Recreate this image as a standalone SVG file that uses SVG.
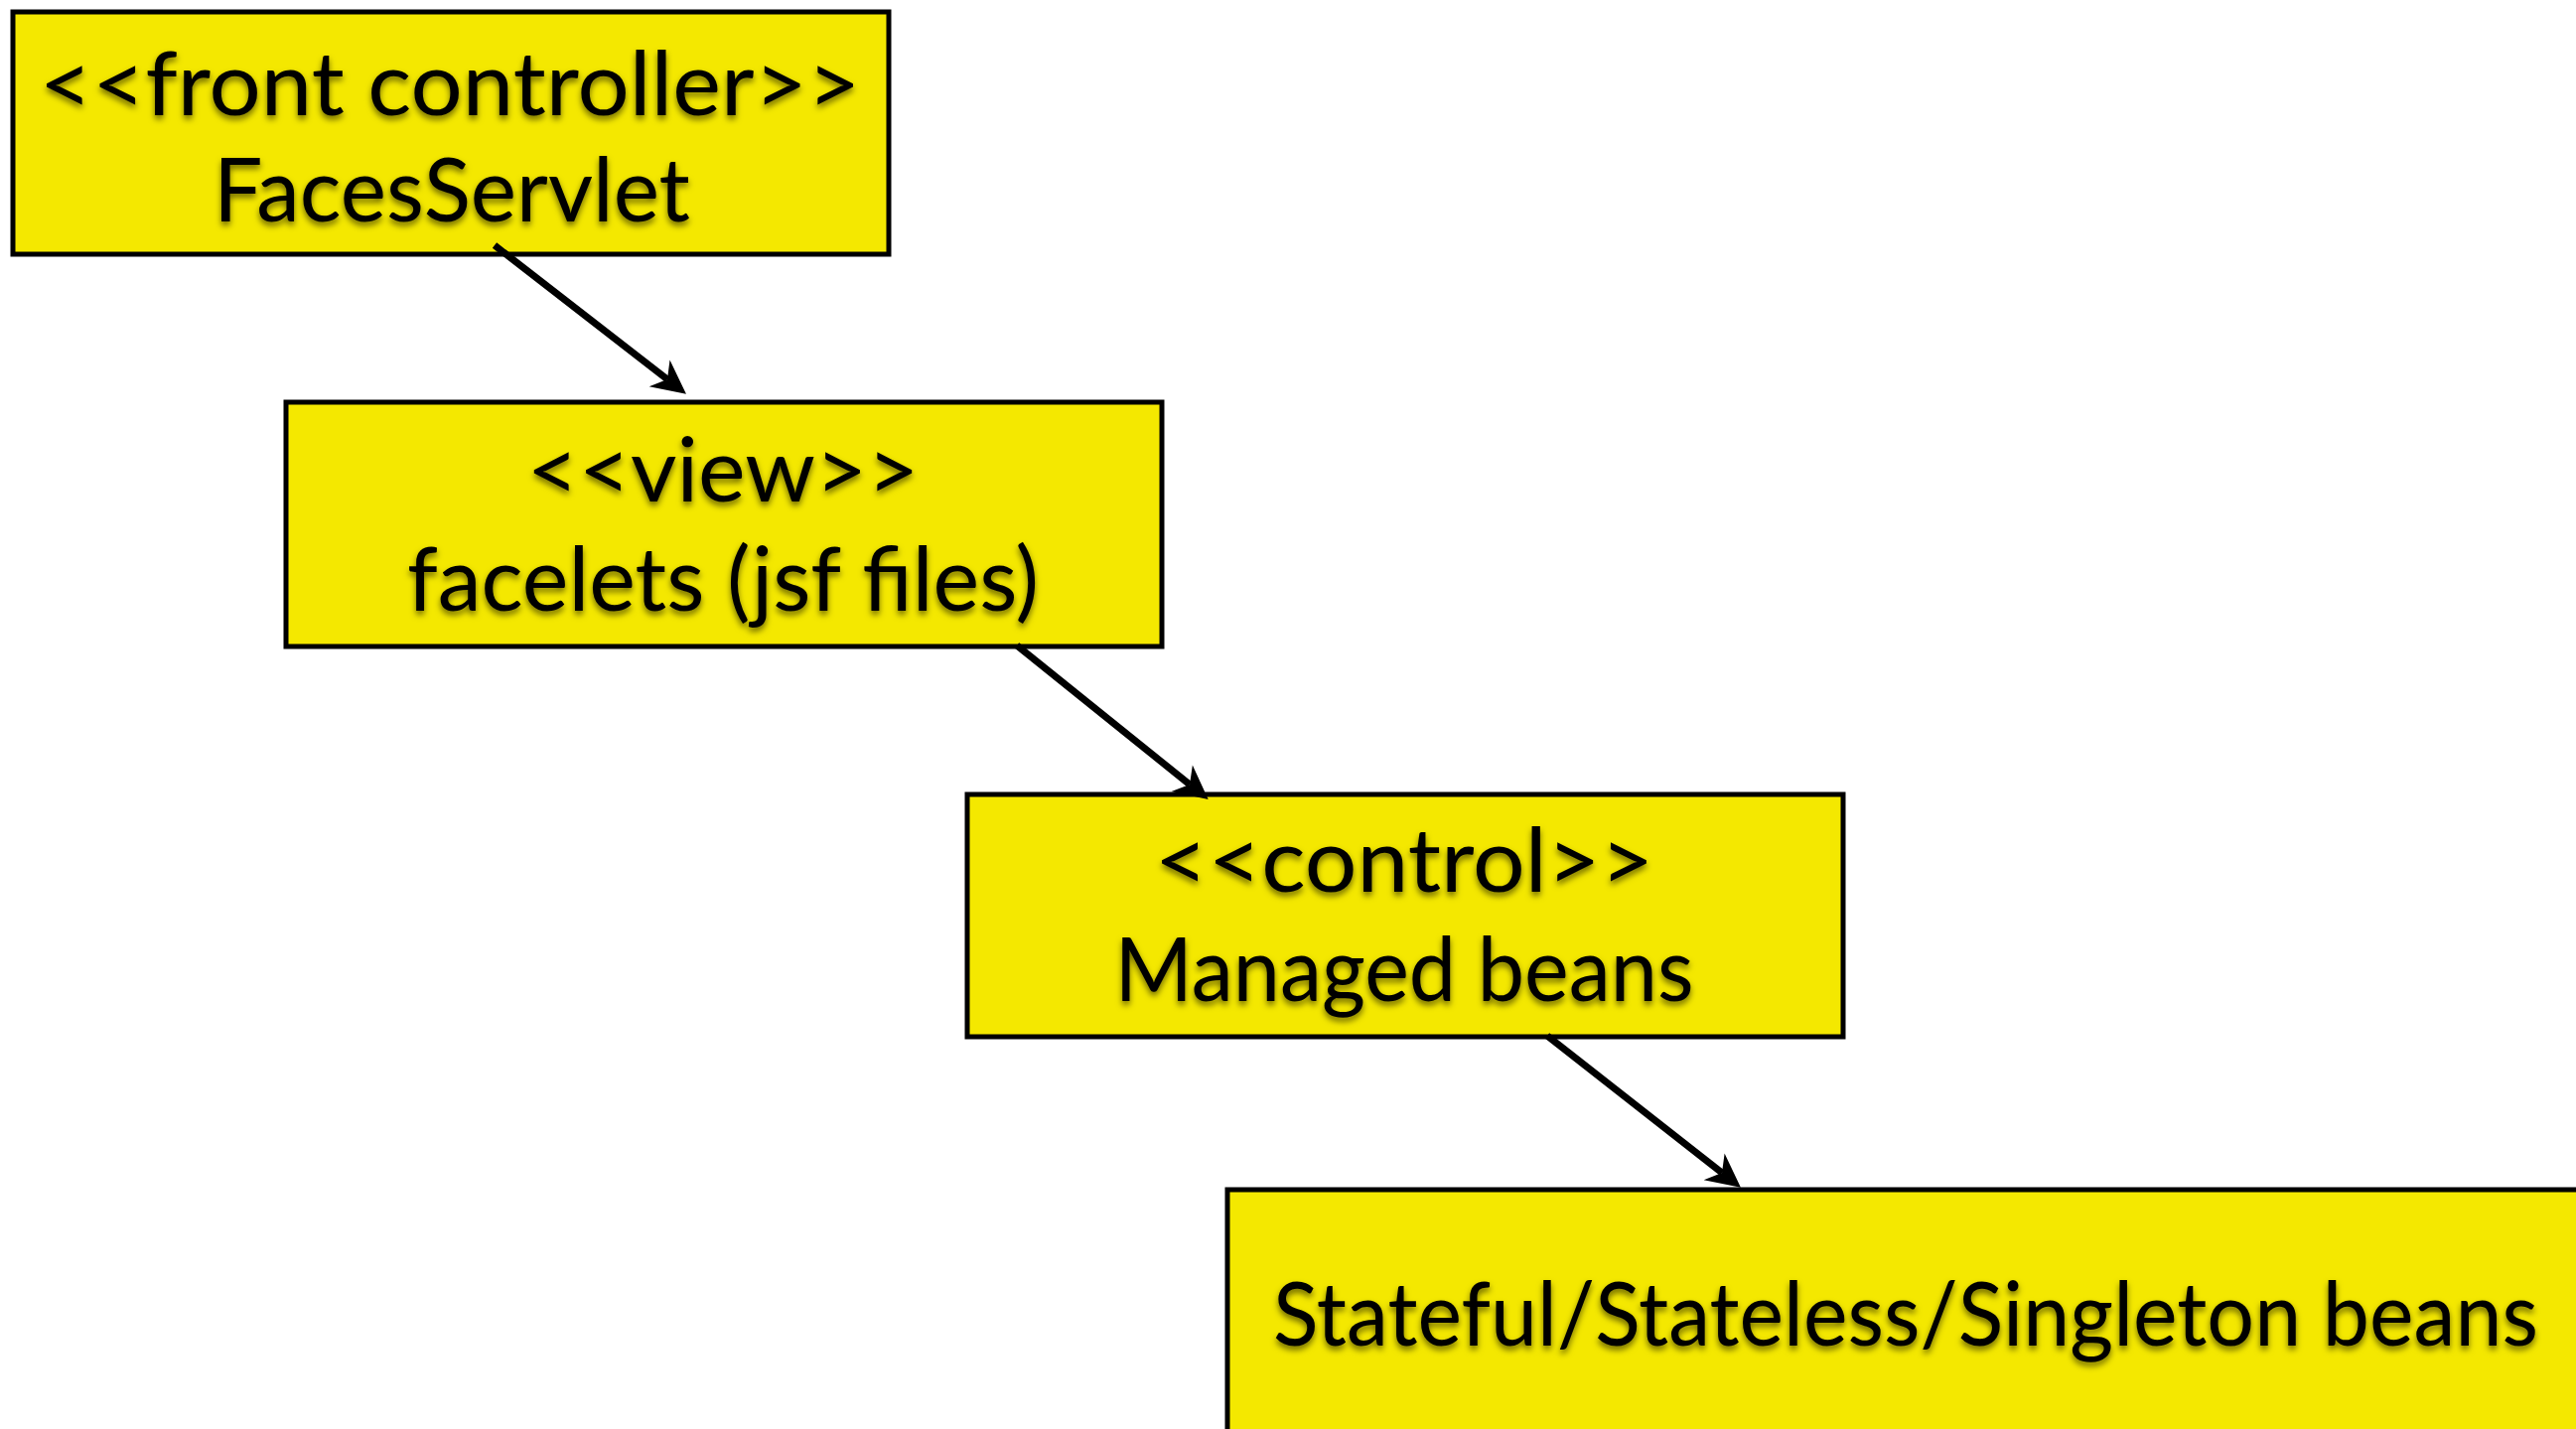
<svg xmlns="http://www.w3.org/2000/svg" width="2594" height="1439" viewBox="0 0 2594 1439">
  <defs>
    <style>
      .box { fill: #F4E800; stroke: #000; stroke-width: 5; }
      .lbl { font-family: Lato, "Open Sans", "Liberation Sans", sans-serif; font-size: 90px; fill: #000; text-anchor: middle; filter: url(#txtShadow); }
      .edge { fill: none; stroke: #000; stroke-width: 7; marker-end: url(#head); }
    </style>
    <filter id="txtShadow" x="-10%" y="-40%" width="120%" height="180%">
      <feDropShadow dx="0" dy="4" stdDeviation="3" flood-color="#000" flood-opacity="0.55"/>
    </filter>
    <!-- barbed arrowhead, tip 24px past the path end -->
    <marker id="head" viewBox="-12 -19 40 38" refX="0" refY="0" markerWidth="40" markerHeight="38" markerUnits="userSpaceOnUse" orient="auto">
      <path d="M24,0 L-10,-17 L0,0 L-10,17 Z" fill="#000"/>
    </marker>
  </defs>

  <rect width="2594" height="1439" fill="#fff"/>

  <!-- nodes -->
  <g id="front-controller">
    <rect class="box" x="13" y="12" width="882" height="244"/>
    <text class="lbl" x="453" y="116" textLength="827" lengthAdjust="spacingAndGlyphs">&lt;&lt;front controller&gt;&gt;</text>
    <text class="lbl" x="455" y="223" textLength="480" lengthAdjust="spacingAndGlyphs">FacesServlet</text>
  </g>

  <g id="view">
    <rect class="box" x="288" y="405" width="882" height="246"/>
    <text class="lbl" x="728" y="505" textLength="395" lengthAdjust="spacingAndGlyphs">&lt;&lt;view&gt;&gt;</text>
    <text class="lbl" x="728" y="615" textLength="636" lengthAdjust="spacingAndGlyphs">facelets (jsf files)</text>
  </g>

  <g id="control">
    <rect class="box" x="974" y="800" width="882" height="244"/>
    <text class="lbl" x="1414" y="898" textLength="503" lengthAdjust="spacingAndGlyphs">&lt;&lt;control&gt;&gt;</text>
    <text class="lbl" x="1414" y="1008" textLength="583" lengthAdjust="spacingAndGlyphs">Managed beans</text>
  </g>

  <g id="session-beans">
    <rect class="box" x="1236" y="1198" width="1400" height="300"/>
    <text class="lbl" x="1919" y="1355" textLength="1274" lengthAdjust="spacingAndGlyphs">Stateful/Stateless/Singleton beans</text>
  </g>

  <!-- connectors, drawn over the box borders -->
  <g id="connectors">
    <path class="edge" d="M498,247 L672,382"/>
    <path class="edge" d="M1024,650 L1198,790"/>
    <path class="edge" d="M1558,1043 L1734,1181"/>
  </g>
</svg>
